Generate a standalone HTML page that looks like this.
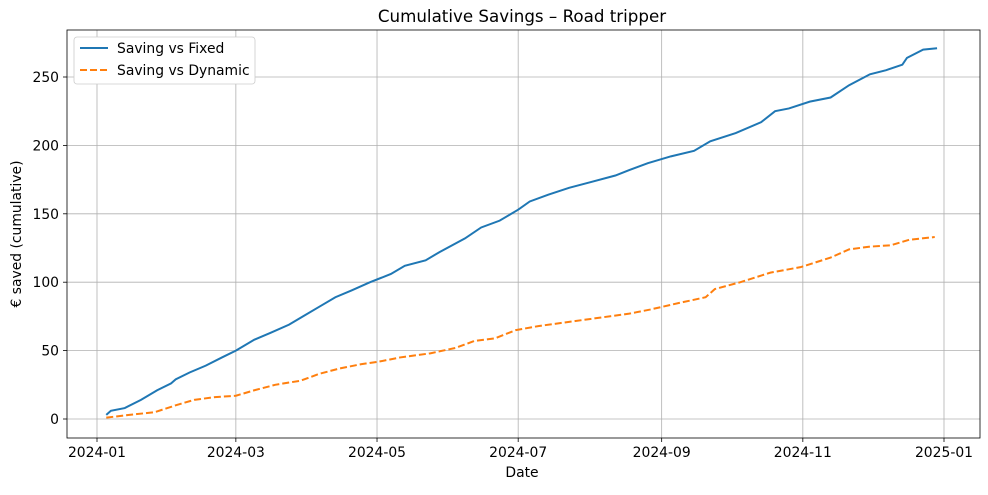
<!DOCTYPE html>
<html><head><meta charset="utf-8"><style>
body{margin:0;background:#fff;font-family:"Liberation Sans","DejaVu Sans",sans-serif;}
svg text{font-family:"DejaVu Sans","Liberation Sans",sans-serif;}
</style></head><body>
<svg id="c" width="988" height="490"></svg>
<script>
const fixedDays=[4,6,12,19,26,32,34,40,47,54,60,68,75,83,89,96,103,110,118,127,133,142,148,159,166,174,182,187,195,204,213,224,230,238,248,258,265,276,287,293,299,308,317,325,334,341,348,350,357,363];
const fixedVals=[3,6,8,14,21,26,29,34,39,45,50,58,63,69,75,82,89,94,100,106,112,116,122,132,140,145,153,159,164,169,173,178,182,187,192,196,203,209,217,225,227,232,235,244,252,255,259,264,270,271];
const dynDays=[4,14,25,34,42,51,60,68,77,88,96,105,114,122,131,144,155,163,172,181,191,204,217,230,239,252,263,267,278,291,304,317,325,334,343,351,362];
const dynVals=[1,3,5,10,14,16,17,21,25,28,33,37,40,42,45,48,52,57,59,65,68,71,74,77,80,85,89,95,100,107,111,118,124,126,127,131,133];
const xTickDays=[0,60,121,182,244,305,366];
const xTickLabels=["2024-01","2024-03","2024-05","2024-07","2024-09","2024-11","2025-01"];
const yTicks=[0,50,100,150,200,250];

const NS="http://www.w3.org/2000/svg";
const svg=document.getElementById('c');
const L=67,R=980,T=30,B=438;
const x=d=>97+d*(847/366);
const y=v=>419-v*(342/250);
function el(t,a,p){const e=document.createElementNS(NS,t);for(const k in a)e.setAttribute(k,a[k]);(p||svg).appendChild(e);return e;}

xTickDays.forEach((d,i)=>{
 const g=el('line',{x1:x(d),x2:x(d),y1:T,y2:B,stroke:'#b0b0b0','stroke-width':0.8});
 
 
 el('line',{x1:x(d),x2:x(d),y1:B,y2:B+4,stroke:'#000','stroke-width':0.8});
 const t=el('text',{x:x(d),y:B+19,'text-anchor':'middle','font-size':13.9});
 t.textContent=xTickLabels[i];
 
 
});
yTicks.forEach(v=>{
 const g=el('line',{x1:L,x2:R,y1:y(v),y2:y(v),stroke:'#b0b0b0','stroke-width':0.8});
 
 
 el('line',{x1:L-4,x2:L,y1:y(v),y2:y(v),stroke:'#000','stroke-width':0.8});
 const t=el('text',{x:L-8,y:y(v)+5,'text-anchor':'end','font-size':13.9});
 t.textContent=v;
 
 
});
const fr=el('rect',{x:L,y:T,width:R-L,height:B-T,fill:'none',stroke:'#000','stroke-width':0.8});



function line(days,vals,color,dash,name){
 const p=el('polyline',{points:days.map((d,i)=>x(d)+','+y(vals[i])).join(' '),fill:'none',stroke:color,'stroke-width':2,'stroke-dasharray':dash});
 
 
}
line(fixedDays,fixedVals,'#1f77b4','none','saving-vs-fixed-line');
line(dynDays,dynVals,'#ff7f0e','7,3','saving-vs-dynamic-line');

const title=el('text',{x:522,y:22,'text-anchor':'middle','font-size':16.7});
title.textContent='Cumulative Savings – Road tripper';


const xl=el('text',{x:522,y:477,'text-anchor':'middle','font-size':13.9});
xl.textContent='Date';


const yl=el('text',{x:21,y:234,'text-anchor':'middle','font-size':13.9,transform:'rotate(-90 21 234)'});
yl.textContent='€ saved (cumulative)';



const lg=el('rect',{x:74,y:37,width:181,height:47,rx:3,fill:'#fff',stroke:'#ccc','stroke-width':0.8});


el('line',{x1:80,x2:108,y1:48,y2:48,stroke:'#1f77b4','stroke-width':2});
el('line',{x1:80,x2:108,y1:70,y2:70,stroke:'#ff7f0e','stroke-width':2,'stroke-dasharray':'7,3'});
const l1=el('text',{x:117,y:53,'font-size':13.9});l1.textContent='Saving vs Fixed';


const l2=el('text',{x:117,y:75,'font-size':13.9});l2.textContent='Saving vs Dynamic';


</script>
</body></html>
